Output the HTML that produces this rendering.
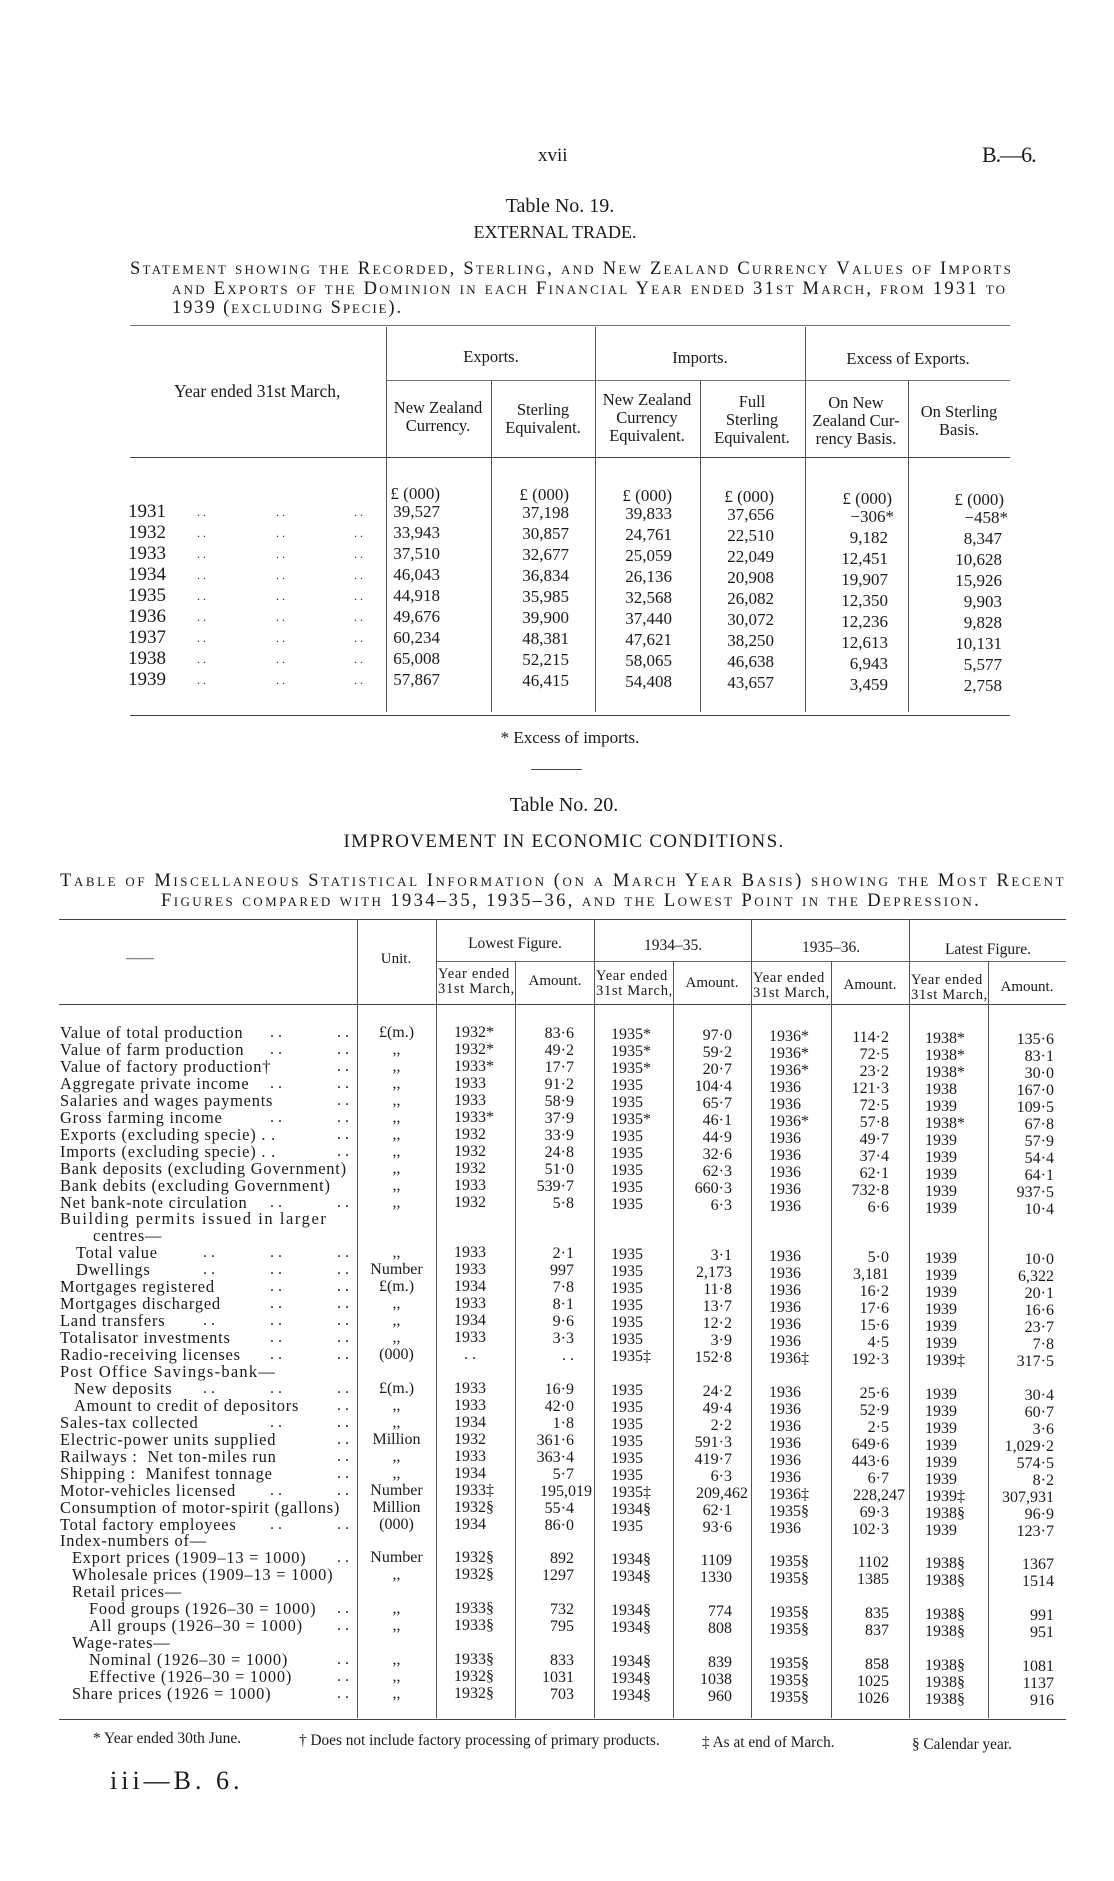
<!DOCTYPE html>
<html><head><meta charset="utf-8"><style>
body{margin:0;background:#fff;}
#p{position:relative;width:1114px;height:1881px;overflow:hidden;background:#fff;color:#1a1a1a;font-family:"Liberation Serif",serif;}
.t{position:absolute;white-space:nowrap;line-height:1;}
.c{transform:translateX(-50%);text-align:center;}
.h{position:absolute;height:1px;background:#444;}
.v{position:absolute;width:1px;background:#555;}
.sc{font-variant:small-caps;}
.r{position:absolute;left:0;width:1114px;height:18px;font-size:16px;line-height:18px;}
.r span{position:absolute;white-space:nowrap;}
.lab{left:60px;letter-spacing:.8px;font-size:16.4px;}
.u{left:357px;width:79px;text-align:center;}
.y1{left:454px;}.a1{right:540px;top:1px;}
.y2{left:611px;top:2px;}.a2{right:382px;top:3px;}
.y3{left:769px;top:4px;}.a3{right:225px;top:5px;}
.y4{left:925px;top:6px;}.a4{right:60px;top:7px;}
.d1{left:270px;}.d2{left:337px;}.d0{left:203px;}
.yr{position:absolute;left:0;width:1114px;height:20px;font-size:17px;line-height:20px;}
.yr span{position:absolute;white-space:nowrap;}
.yr .yy{font-size:19px;}
.e1{right:674px}.e2{right:545px;top:1px}.e3{right:442px;top:2px}.e4{right:340px;top:3px}.e5{right:226px;top:5px}.e6{right:112px;top:6px}
.hd{font-size:16.5px;line-height:18px;}
.yh{font-size:14.5px;line-height:15px;letter-spacing:.7px;}
</style></head><body><div id="p">

<div class="t" style="left:538px;top:146px;font-size:19px;">xvii</div>
<div class="t" style="left:982px;top:144px;font-size:22px;letter-spacing:-1px;">B.—6.</div>

<div class="t c" style="left:560px;top:196px;font-size:20px;">Table No. 19.</div>
<div class="t c" style="left:555px;top:223px;font-size:18px;">EXTERNAL TRADE.</div>
<div class="t sc" style="left:130px;top:260px;font-size:18.5px;letter-spacing:2.25px;">Statement showing the Recorded, Sterling, and New Zealand Currency Values of Imports</div>
<div class="t sc" style="left:172px;top:280px;font-size:18.5px;letter-spacing:2.25px;">and Exports of the Dominion in each Financial Year ended 31st March, from 1931 to</div>
<div class="t sc" style="left:172px;top:299px;font-size:18.5px;letter-spacing:1.9px;">1939 (excluding Specie).</div>

<div class="h" style="left:130px;top:325px;width:880px;background:#777;"></div>
<div class="h" style="left:130px;top:457px;width:880px;"></div>
<div class="h" style="left:130px;top:715px;width:880px;"></div>
<div class="h" style="left:386px;top:380px;width:624px;background:#777;"></div>
<div class="v" style="left:386px;top:327px;height:385px;"></div>
<div class="v" style="left:491px;top:380px;height:332px;"></div>
<div class="v" style="left:595px;top:327px;height:385px;"></div>
<div class="v" style="left:700px;top:380px;height:332px;"></div>
<div class="v" style="left:805px;top:327px;height:385px;"></div>
<div class="v" style="left:908px;top:380px;height:332px;"></div>

<div class="t" style="left:174px;top:383px;font-size:17.5px;">Year ended 31st March,</div>
<div class="t c hd" style="left:491px;top:348px;">Exports.</div>
<div class="t c hd" style="left:700px;top:349px;">Imports.</div>
<div class="t c hd" style="left:908px;top:350px;">Excess of Exports.</div>
<div class="t c hd" style="left:438px;top:399px;">New Zealand<br>Currency.</div>
<div class="t c hd" style="left:543px;top:401px;">Sterling<br>Equivalent.</div>
<div class="t c hd" style="left:647px;top:391px;">New Zealand<br>Currency<br>Equivalent.</div>
<div class="t c hd" style="left:752px;top:393px;">Full<br>Sterling<br>Equivalent.</div>
<div class="t c hd" style="left:856px;top:394px;">On New<br>Zealand Cur-<br>rency Basis.</div>
<div class="t c hd" style="left:959px;top:403px;">On Sterling<br>Basis.</div>

<div class="yr" style="top:484px;"><span class="e1">£ (000)</span><span class="e2">£ (000)</span><span class="e3">£ (000)</span><span class="e4">£ (000)</span><span class="e5" style="right:222px">£ (000)</span><span class="e6" style="right:110px">£ (000)</span></div>
<div class="yr" style="top:502px;"><span class="yy" style="left:128px">1931</span><span style="left:197px;font-size:12px">. .</span><span style="left:276px;font-size:12px">. .</span><span style="left:354px;font-size:12px">. .</span><span class="e1">39,527</span><span class="e2">37,198</span><span class="e3">39,833</span><span class="e4">37,656</span><span class="e5" style="right:220px">−306*</span><span class="e6" style="right:106px">−458*</span></div>
<div class="yr" style="top:523px;"><span class="yy" style="left:128px">1932</span><span style="left:197px;font-size:12px">. .</span><span style="left:276px;font-size:12px">. .</span><span style="left:354px;font-size:12px">. .</span><span class="e1">33,943</span><span class="e2">30,857</span><span class="e3">24,761</span><span class="e4">22,510</span><span class="e5">9,182</span><span class="e6">8,347</span></div>
<div class="yr" style="top:544px;"><span class="yy" style="left:128px">1933</span><span style="left:197px;font-size:12px">. .</span><span style="left:276px;font-size:12px">. .</span><span style="left:354px;font-size:12px">. .</span><span class="e1">37,510</span><span class="e2">32,677</span><span class="e3">25,059</span><span class="e4">22,049</span><span class="e5">12,451</span><span class="e6">10,628</span></div>
<div class="yr" style="top:565px;"><span class="yy" style="left:128px">1934</span><span style="left:197px;font-size:12px">. .</span><span style="left:276px;font-size:12px">. .</span><span style="left:354px;font-size:12px">. .</span><span class="e1">46,043</span><span class="e2">36,834</span><span class="e3">26,136</span><span class="e4">20,908</span><span class="e5">19,907</span><span class="e6">15,926</span></div>
<div class="yr" style="top:586px;"><span class="yy" style="left:128px">1935</span><span style="left:197px;font-size:12px">. .</span><span style="left:276px;font-size:12px">. .</span><span style="left:354px;font-size:12px">. .</span><span class="e1">44,918</span><span class="e2">35,985</span><span class="e3">32,568</span><span class="e4">26,082</span><span class="e5">12,350</span><span class="e6">9,903</span></div>
<div class="yr" style="top:607px;"><span class="yy" style="left:128px">1936</span><span style="left:197px;font-size:12px">. .</span><span style="left:276px;font-size:12px">. .</span><span style="left:354px;font-size:12px">. .</span><span class="e1">49,676</span><span class="e2">39,900</span><span class="e3">37,440</span><span class="e4">30,072</span><span class="e5">12,236</span><span class="e6">9,828</span></div>
<div class="yr" style="top:628px;"><span class="yy" style="left:128px">1937</span><span style="left:197px;font-size:12px">. .</span><span style="left:276px;font-size:12px">. .</span><span style="left:354px;font-size:12px">. .</span><span class="e1">60,234</span><span class="e2">48,381</span><span class="e3">47,621</span><span class="e4">38,250</span><span class="e5">12,613</span><span class="e6">10,131</span></div>
<div class="yr" style="top:649px;"><span class="yy" style="left:128px">1938</span><span style="left:197px;font-size:12px">. .</span><span style="left:276px;font-size:12px">. .</span><span style="left:354px;font-size:12px">. .</span><span class="e1">65,008</span><span class="e2">52,215</span><span class="e3">58,065</span><span class="e4">46,638</span><span class="e5">6,943</span><span class="e6">5,577</span></div>
<div class="yr" style="top:670px;"><span class="yy" style="left:128px">1939</span><span style="left:197px;font-size:12px">. .</span><span style="left:276px;font-size:12px">. .</span><span style="left:354px;font-size:12px">. .</span><span class="e1">57,867</span><span class="e2">46,415</span><span class="e3">54,408</span><span class="e4">43,657</span><span class="e5">3,459</span><span class="e6">2,758</span></div>

<div class="t c" style="left:570px;top:729px;font-size:17px;">* Excess of imports.</div>
<div class="h" style="left:531px;top:769px;width:51px;"></div>

<div class="t c" style="left:564px;top:795px;font-size:20px;">Table No. 20.</div>
<div class="t c" style="left:564px;top:832px;font-size:19px;letter-spacing:1.3px;">IMPROVEMENT IN ECONOMIC CONDITIONS.</div>
<div class="t sc" style="left:60px;top:872px;font-size:18.5px;letter-spacing:2.58px;">Table of Miscellaneous Statistical Information (on a March Year Basis) showing the Most Recent</div>
<div class="t sc" style="left:161px;top:892px;font-size:18.5px;letter-spacing:2.42px;">Figures compared with 1934–35, 1935–36, and the Lowest Point in the Depression.</div>

<div class="h" style="left:59px;top:919px;width:1007px;"></div>
<div class="h" style="left:436px;top:961px;width:630px;background:#666;"></div>
<div class="h" style="left:59px;top:1004px;width:1007px;"></div>
<div class="h" style="left:59px;top:1719px;width:1007px;"></div>
<div class="v" style="left:357px;top:919px;height:799px;"></div>
<div class="v" style="left:436px;top:919px;height:799px;"></div>
<div class="v" style="left:515px;top:961px;height:757px;"></div>
<div class="v" style="left:594px;top:919px;height:799px;"></div>
<div class="v" style="left:673px;top:961px;height:757px;"></div>
<div class="v" style="left:751px;top:919px;height:799px;"></div>
<div class="v" style="left:831px;top:961px;height:757px;"></div>
<div class="v" style="left:909px;top:919px;height:799px;"></div>
<div class="v" style="left:988px;top:961px;height:757px;"></div>

<div class="t" style="left:126px;top:952px;font-size:14px;">——</div>
<div class="t c" style="left:396px;top:952px;font-size:15px;">Unit.</div>
<div class="t c" style="left:515px;top:936px;font-size:15.5px;">Lowest Figure.</div>
<div class="t c" style="left:673px;top:938px;font-size:15.5px;">1934–35.</div>
<div class="t c" style="left:831px;top:940px;font-size:15.5px;">1935–36.</div>
<div class="t c" style="left:988px;top:942px;font-size:15.5px;">Latest Figure.</div>
<div class="t yh" style="left:438px;top:967px;">Year ended<br>31st March,</div>
<div class="t c" style="left:555px;top:974px;font-size:15px;">Amount.</div>
<div class="t yh" style="left:596px;top:969px;">Year ended<br>31st March,</div>
<div class="t c" style="left:712px;top:976px;font-size:15px;">Amount.</div>
<div class="t yh" style="left:753px;top:971px;">Year ended<br>31st March,</div>
<div class="t c" style="left:870px;top:978px;font-size:15px;">Amount.</div>
<div class="t yh" style="left:911px;top:973px;">Year ended<br>31st March,</div>
<div class="t c" style="left:1027px;top:980px;font-size:15px;">Amount.</div>

<div class="r" style="top:1024px"><span class="lab">Value of total production</span><span class="d1">. .</span><span class="d2">. .</span><span class="u">£(m.)</span><span class="y1">1932*</span><span class="a1">83·6</span><span class="y2">1935*</span><span class="a2">97·0</span><span class="y3">1936*</span><span class="a3">114·2</span><span class="y4">1938*</span><span class="a4">135·6</span></div>
<div class="r" style="top:1041px"><span class="lab">Value of farm production</span><span class="d1">. .</span><span class="d2">. .</span><span class="u">,,</span><span class="y1">1932*</span><span class="a1">49·2</span><span class="y2">1935*</span><span class="a2">59·2</span><span class="y3">1936*</span><span class="a3">72·5</span><span class="y4">1938*</span><span class="a4">83·1</span></div>
<div class="r" style="top:1058px"><span class="lab">Value of factory production†</span><span class="d2">. .</span><span class="u">,,</span><span class="y1">1933*</span><span class="a1">17·7</span><span class="y2">1935*</span><span class="a2">20·7</span><span class="y3">1936*</span><span class="a3">23·2</span><span class="y4">1938*</span><span class="a4">30·0</span></div>
<div class="r" style="top:1075px"><span class="lab">Aggregate private income</span><span class="d1">. .</span><span class="d2">. .</span><span class="u">,,</span><span class="y1">1933</span><span class="a1">91·2</span><span class="y2">1935</span><span class="a2">104·4</span><span class="y3">1936</span><span class="a3">121·3</span><span class="y4">1938</span><span class="a4">167·0</span></div>
<div class="r" style="top:1092px"><span class="lab">Salaries and wages payments</span><span class="d2">. .</span><span class="u">,,</span><span class="y1">1933</span><span class="a1">58·9</span><span class="y2">1935</span><span class="a2">65·7</span><span class="y3">1936</span><span class="a3">72·5</span><span class="y4">1939</span><span class="a4">109·5</span></div>
<div class="r" style="top:1109px"><span class="lab">Gross farming income</span><span class="d1">. .</span><span class="d2">. .</span><span class="u">,,</span><span class="y1">1933*</span><span class="a1">37·9</span><span class="y2">1935*</span><span class="a2">46·1</span><span class="y3">1936*</span><span class="a3">57·8</span><span class="y4">1938*</span><span class="a4">67·8</span></div>
<div class="r" style="top:1126px"><span class="lab">Exports (excluding specie) . .</span><span class="d2">. .</span><span class="u">,,</span><span class="y1">1932</span><span class="a1">33·9</span><span class="y2">1935</span><span class="a2">44·9</span><span class="y3">1936</span><span class="a3">49·7</span><span class="y4">1939</span><span class="a4">57·9</span></div>
<div class="r" style="top:1143px"><span class="lab">Imports (excluding specie) . .</span><span class="d2">. .</span><span class="u">,,</span><span class="y1">1932</span><span class="a1">24·8</span><span class="y2">1935</span><span class="a2">32·6</span><span class="y3">1936</span><span class="a3">37·4</span><span class="y4">1939</span><span class="a4">54·4</span></div>
<div class="r" style="top:1160px"><span class="lab">Bank deposits (excluding Government)</span><span class="u">,,</span><span class="y1">1932</span><span class="a1">51·0</span><span class="y2">1935</span><span class="a2">62·3</span><span class="y3">1936</span><span class="a3">62·1</span><span class="y4">1939</span><span class="a4">64·1</span></div>
<div class="r" style="top:1177px"><span class="lab">Bank debits (excluding Government)</span><span class="u">,,</span><span class="y1">1933</span><span class="a1">539·7</span><span class="y2">1935</span><span class="a2">660·3</span><span class="y3">1936</span><span class="a3">732·8</span><span class="y4">1939</span><span class="a4">937·5</span></div>
<div class="r" style="top:1194px"><span class="lab">Net bank-note circulation</span><span class="d1">. .</span><span class="d2">. .</span><span class="u">,,</span><span class="y1">1932</span><span class="a1">5·8</span><span class="y2">1935</span><span class="a2">6·3</span><span class="y3">1936</span><span class="a3">6·6</span><span class="y4">1939</span><span class="a4">10·4</span></div>
<div class="r" style="top:1210px"><span class="lab" style="letter-spacing:1.6px">Building permits issued in larger</span></div>
<div class="r" style="top:1227px"><span class="lab" style="left:93px">centres—</span></div>
<div class="r" style="top:1244px"><span class="lab" style="left:76px">Total value</span><span class="d0">. .</span><span class="d1">. .</span><span class="d2">. .</span><span class="u">,,</span><span class="y1">1933</span><span class="a1">2·1</span><span class="y2">1935</span><span class="a2">3·1</span><span class="y3">1936</span><span class="a3">5·0</span><span class="y4">1939</span><span class="a4">10·0</span></div>
<div class="r" style="top:1261px"><span class="lab" style="left:76px">Dwellings</span><span class="d0">. .</span><span class="d1">. .</span><span class="d2">. .</span><span class="u">Number</span><span class="y1">1933</span><span class="a1">997</span><span class="y2">1935</span><span class="a2">2,173</span><span class="y3">1936</span><span class="a3">3,181</span><span class="y4">1939</span><span class="a4">6,322</span></div>
<div class="r" style="top:1278px"><span class="lab">Mortgages registered</span><span class="d1">. .</span><span class="d2">. .</span><span class="u">£(m.)</span><span class="y1">1934</span><span class="a1">7·8</span><span class="y2">1935</span><span class="a2">11·8</span><span class="y3">1936</span><span class="a3">16·2</span><span class="y4">1939</span><span class="a4">20·1</span></div>
<div class="r" style="top:1295px"><span class="lab">Mortgages discharged</span><span class="d1">. .</span><span class="d2">. .</span><span class="u">,,</span><span class="y1">1933</span><span class="a1">8·1</span><span class="y2">1935</span><span class="a2">13·7</span><span class="y3">1936</span><span class="a3">17·6</span><span class="y4">1939</span><span class="a4">16·6</span></div>
<div class="r" style="top:1312px"><span class="lab">Land transfers</span><span class="d0">. .</span><span class="d1">. .</span><span class="d2">. .</span><span class="u">,,</span><span class="y1">1934</span><span class="a1">9·6</span><span class="y2">1935</span><span class="a2">12·2</span><span class="y3">1936</span><span class="a3">15·6</span><span class="y4">1939</span><span class="a4">23·7</span></div>
<div class="r" style="top:1329px"><span class="lab">Totalisator investments</span><span class="d1">. .</span><span class="d2">. .</span><span class="u">,,</span><span class="y1">1933</span><span class="a1">3·3</span><span class="y2">1935</span><span class="a2">3·9</span><span class="y3">1936</span><span class="a3">4·5</span><span class="y4">1939</span><span class="a4">7·8</span></div>
<div class="r" style="top:1346px"><span class="lab">Radio-receiving licenses</span><span class="d1">. .</span><span class="d2">. .</span><span class="u">(000)</span><span class="y1" style="left:464px">. .</span><span class="a1">. .</span><span class="y2">1935‡</span><span class="a2">152·8</span><span class="y3">1936‡</span><span class="a3">192·3</span><span class="y4">1939‡</span><span class="a4">317·5</span></div>
<div class="r" style="top:1363px"><span class="lab" style="letter-spacing:1.3px">Post Office Savings-bank—</span></div>
<div class="r" style="top:1380px"><span class="lab" style="left:74px">New deposits</span><span class="d0">. .</span><span class="d1">. .</span><span class="d2">. .</span><span class="u">£(m.)</span><span class="y1">1933</span><span class="a1">16·9</span><span class="y2">1935</span><span class="a2">24·2</span><span class="y3">1936</span><span class="a3">25·6</span><span class="y4">1939</span><span class="a4">30·4</span></div>
<div class="r" style="top:1397px"><span class="lab" style="left:74px">Amount to credit of depositors</span><span class="d2">. .</span><span class="u">,,</span><span class="y1">1933</span><span class="a1">42·0</span><span class="y2">1935</span><span class="a2">49·4</span><span class="y3">1936</span><span class="a3">52·9</span><span class="y4">1939</span><span class="a4">60·7</span></div>
<div class="r" style="top:1414px"><span class="lab">Sales-tax collected</span><span class="d1">. .</span><span class="d2">. .</span><span class="u">,,</span><span class="y1">1934</span><span class="a1">1·8</span><span class="y2">1935</span><span class="a2">2·2</span><span class="y3">1936</span><span class="a3">2·5</span><span class="y4">1939</span><span class="a4">3·6</span></div>
<div class="r" style="top:1431px"><span class="lab">Electric-power units supplied</span><span class="d2">. .</span><span class="u">Million</span><span class="y1">1932</span><span class="a1">361·6</span><span class="y2">1935</span><span class="a2">591·3</span><span class="y3">1936</span><span class="a3">649·6</span><span class="y4">1939</span><span class="a4">1,029·2</span></div>
<div class="r" style="top:1448px"><span class="lab">Railways :&nbsp; Net ton-miles run</span><span class="d2">. .</span><span class="u">,,</span><span class="y1">1933</span><span class="a1">363·4</span><span class="y2">1935</span><span class="a2">419·7</span><span class="y3">1936</span><span class="a3">443·6</span><span class="y4">1939</span><span class="a4">574·5</span></div>
<div class="r" style="top:1465px"><span class="lab">Shipping :&nbsp; Manifest tonnage</span><span class="d2">. .</span><span class="u">,,</span><span class="y1">1934</span><span class="a1">5·7</span><span class="y2">1935</span><span class="a2">6·3</span><span class="y3">1936</span><span class="a3">6·7</span><span class="y4">1939</span><span class="a4">8·2</span></div>
<div class="r" style="top:1482px"><span class="lab">Motor-vehicles licensed</span><span class="d1">. .</span><span class="d2">. .</span><span class="u">Number</span><span class="y1">1933‡</span><span class="a1" style="right:522px">195,019</span><span class="y2">1935‡</span><span class="a2" style="right:366px">209,462</span><span class="y3">1936‡</span><span class="a3" style="right:209px">228,247</span><span class="y4">1939‡</span><span class="a4">307,931</span></div>
<div class="r" style="top:1499px"><span class="lab">Consumption of motor-spirit (gallons)</span><span class="u">Million</span><span class="y1">1932§</span><span class="a1">55·4</span><span class="y2">1934§</span><span class="a2">62·1</span><span class="y3">1935§</span><span class="a3">69·3</span><span class="y4">1938§</span><span class="a4">96·9</span></div>
<div class="r" style="top:1516px"><span class="lab">Total factory employees</span><span class="d1">. .</span><span class="d2">. .</span><span class="u">(000)</span><span class="y1">1934</span><span class="a1">86·0</span><span class="y2">1935</span><span class="a2">93·6</span><span class="y3">1936</span><span class="a3">102·3</span><span class="y4">1939</span><span class="a4">123·7</span></div>
<div class="r" style="top:1532px"><span class="lab">Index-numbers of—</span></div>
<div class="r" style="top:1549px"><span class="lab" style="left:72px">Export prices (1909–13 = 1000)</span><span class="d2">. .</span><span class="u">Number</span><span class="y1">1932§</span><span class="a1">892</span><span class="y2">1934§</span><span class="a2">1109</span><span class="y3">1935§</span><span class="a3">1102</span><span class="y4">1938§</span><span class="a4">1367</span></div>
<div class="r" style="top:1566px"><span class="lab" style="left:72px">Wholesale prices (1909–13 = 1000)</span><span class="u">,,</span><span class="y1">1932§</span><span class="a1">1297</span><span class="y2">1934§</span><span class="a2">1330</span><span class="y3">1935§</span><span class="a3">1385</span><span class="y4">1938§</span><span class="a4">1514</span></div>
<div class="r" style="top:1583px"><span class="lab" style="left:72px">Retail prices—</span></div>
<div class="r" style="top:1600px"><span class="lab" style="left:89px">Food groups (1926–30 = 1000)</span><span class="d2">. .</span><span class="u">,,</span><span class="y1">1933§</span><span class="a1">732</span><span class="y2">1934§</span><span class="a2">774</span><span class="y3">1935§</span><span class="a3">835</span><span class="y4">1938§</span><span class="a4">991</span></div>
<div class="r" style="top:1617px"><span class="lab" style="left:89px">All groups (1926–30 = 1000)</span><span class="d2">. .</span><span class="u">,,</span><span class="y1">1933§</span><span class="a1">795</span><span class="y2">1934§</span><span class="a2">808</span><span class="y3">1935§</span><span class="a3">837</span><span class="y4">1938§</span><span class="a4">951</span></div>
<div class="r" style="top:1634px"><span class="lab" style="left:72px">Wage-rates—</span></div>
<div class="r" style="top:1651px"><span class="lab" style="left:89px">Nominal (1926–30 = 1000)</span><span class="d2">. .</span><span class="u">,,</span><span class="y1">1933§</span><span class="a1">833</span><span class="y2">1934§</span><span class="a2">839</span><span class="y3">1935§</span><span class="a3">858</span><span class="y4">1938§</span><span class="a4">1081</span></div>
<div class="r" style="top:1668px"><span class="lab" style="left:89px">Effective (1926–30 = 1000)</span><span class="d2">. .</span><span class="u">,,</span><span class="y1">1932§</span><span class="a1">1031</span><span class="y2">1934§</span><span class="a2">1038</span><span class="y3">1935§</span><span class="a3">1025</span><span class="y4">1938§</span><span class="a4">1137</span></div>
<div class="r" style="top:1685px"><span class="lab" style="left:72px">Share prices (1926 = 1000)</span><span class="d2">. .</span><span class="u">,,</span><span class="y1">1932§</span><span class="a1">703</span><span class="y2">1934§</span><span class="a2">960</span><span class="y3">1935§</span><span class="a3">1026</span><span class="y4">1938§</span><span class="a4">916</span></div>

<div class="t" style="left:93px;top:1731px;font-size:15.5px;">* Year ended 30th June.</div>
<div class="t" style="left:299px;top:1733px;font-size:15.3px;">† Does not include factory processing of primary products.</div>
<div class="t" style="left:702px;top:1735px;font-size:15.3px;">‡ As at end of March.</div>
<div class="t" style="left:912px;top:1737px;font-size:15.3px;">§ Calendar year.</div>

<div class="t" style="left:110px;top:1768px;font-size:26px;letter-spacing:4px;">iii—B. 6.</div>
</div></body></html>
